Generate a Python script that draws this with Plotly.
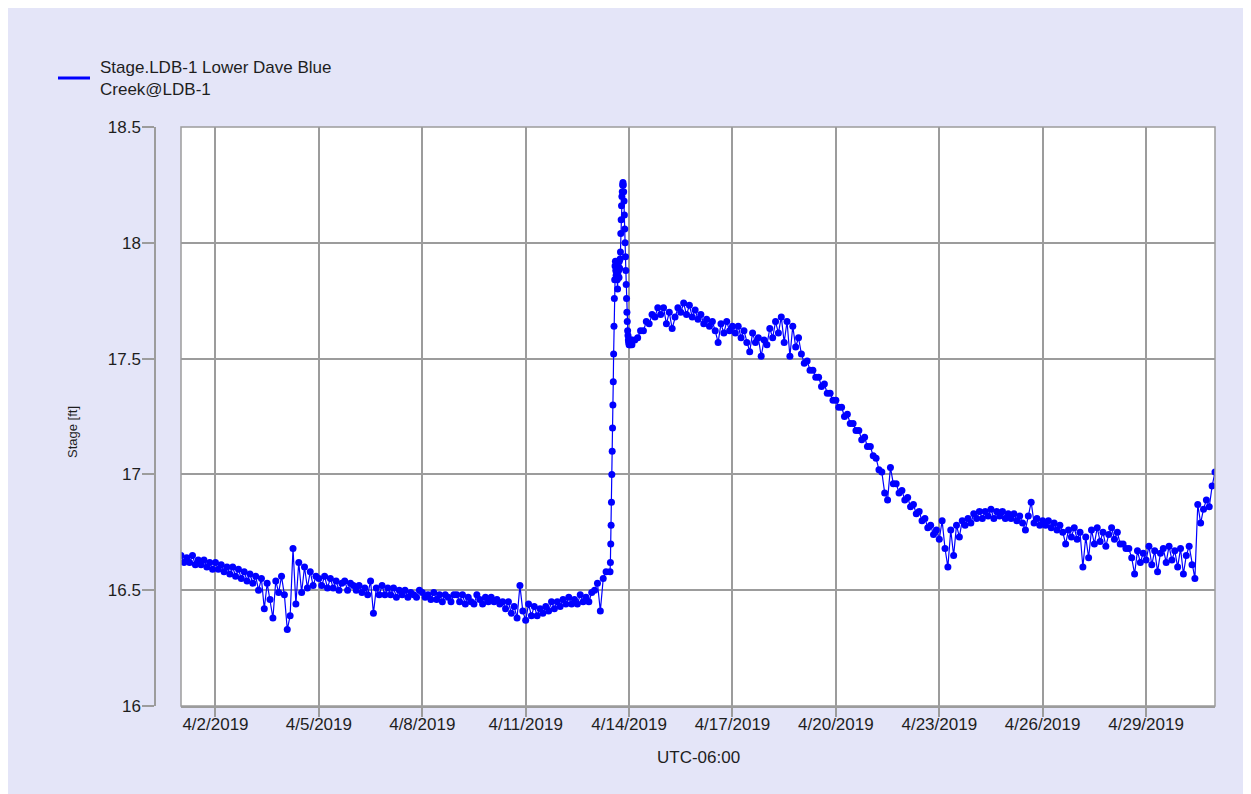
import pandas as pd
import plotly.graph_objects as go

SERIES_LINE_1 = "Stage.LDB-1 Lower Dave Blue"
SERIES_LINE_2 = "Creek@LDB-1"

# 2-hourly readings, 2019-04-01 00:00 .. 2019-04-13 08:00 (ft)
stage_a = [
    16.65, 16.62, 16.64, 16.62, 16.65, 16.61, 16.63, 16.61, 16.63, 16.60, 16.62, 16.59,
    16.62, 16.59, 16.61, 16.58, 16.60, 16.57, 16.60, 16.56, 16.59, 16.55, 16.58, 16.54,
    16.57, 16.53, 16.56, 16.50, 16.55, 16.42, 16.53, 16.46, 16.38, 16.54, 16.49, 16.56,
    16.48, 16.33, 16.39, 16.68, 16.44, 16.62, 16.49, 16.60, 16.51, 16.58, 16.52, 16.56,
    16.55, 16.52, 16.56, 16.51, 16.55, 16.51, 16.54, 16.50, 16.53, 16.54, 16.50, 16.53,
    16.52, 16.50, 16.52, 16.49, 16.51, 16.48, 16.54, 16.40, 16.51, 16.48, 16.52, 16.48,
    16.51, 16.48, 16.51, 16.47, 16.50, 16.48, 16.50, 16.47, 16.49, 16.48, 16.47, 16.50,
    16.49, 16.47, 16.48, 16.46, 16.49, 16.46, 16.48, 16.45, 16.48, 16.47, 16.45, 16.48,
    16.48, 16.45, 16.48, 16.44, 16.47, 16.45, 16.44, 16.48, 16.46, 16.44, 16.47, 16.45,
    16.47, 16.45, 16.46, 16.44, 16.45, 16.42, 16.45, 16.40, 16.43, 16.38, 16.52, 16.41,
    16.37, 16.44, 16.39, 16.43, 16.39, 16.42, 16.40, 16.43, 16.41, 16.45, 16.42, 16.45,
    16.43, 16.46, 16.44, 16.47, 16.44, 16.46, 16.44, 16.48, 16.45, 16.47, 16.45, 16.49,
    16.50, 16.53, 16.41, 16.55, 16.58,
]

# 15-minute readings during the flood pulse, 2019-04-13 10:45 .. 2019-04-14 01:45
stage_b = [
    16.58, 16.62, 16.70, 16.78, 16.88, 17.00, 17.10, 17.20, 17.30, 17.40, 17.52, 17.64,
    17.76, 17.84, 17.90, 17.92, 17.88, 17.86, 17.91, 17.87, 17.84, 17.80, 17.86, 17.90,
    17.88, 17.85, 17.92, 17.89, 17.93, 17.96, 18.04, 18.10, 18.16, 18.20, 18.22, 18.25,
    18.26, 18.25, 18.22, 18.18, 18.12, 18.06, 18.00, 17.94, 17.88, 17.82, 17.76, 17.70,
    17.66, 17.62, 17.60, 17.58, 17.57, 17.56, 17.57, 17.56, 17.57, 17.56, 17.57, 17.58,
    17.58,
]

# 2-hourly readings, 2019-04-14 02:00 .. 2019-05-01 00:00 (ft)
stage_c = [
    17.56, 17.58, 17.59, 17.62, 17.62, 17.66, 17.65, 17.69, 17.68, 17.72, 17.69,
    17.72, 17.65, 17.70, 17.63, 17.68, 17.72, 17.70, 17.74, 17.69, 17.73, 17.68, 17.71,
    17.67, 17.69, 17.65, 17.67, 17.64, 17.66, 17.62, 17.57, 17.65, 17.61, 17.66, 17.62,
    17.64, 17.61, 17.64, 17.59, 17.62, 17.57, 17.53, 17.61, 17.57, 17.59, 17.51, 17.58,
    17.56, 17.63, 17.59, 17.66, 17.61, 17.68, 17.57, 17.66, 17.51, 17.64, 17.55, 17.59,
    17.52, 17.48, 17.49, 17.45, 17.45, 17.42, 17.42, 17.38, 17.39, 17.35, 17.35, 17.32,
    17.32, 17.29, 17.29, 17.25, 17.26, 17.22, 17.22, 17.19, 17.19, 17.15, 17.16, 17.12,
    17.12, 17.08, 17.07, 17.02, 17.01, 16.92, 16.89, 17.03, 16.96, 16.96, 16.92, 16.93,
    16.89, 16.90, 16.86, 16.87, 16.83, 16.84, 16.80, 16.81, 16.77, 16.78, 16.74, 16.76,
    16.72, 16.80, 16.68, 16.60, 16.76, 16.65, 16.78, 16.73, 16.80, 16.78, 16.81, 16.79,
    16.83, 16.81, 16.84, 16.81, 16.84, 16.82, 16.85, 16.81, 16.84, 16.82, 16.84, 16.81,
    16.83, 16.81, 16.83, 16.80, 16.82, 16.79, 16.76, 16.82, 16.88, 16.79, 16.81, 16.78,
    16.80, 16.78, 16.80, 16.77, 16.79, 16.76, 16.78, 16.75, 16.70, 16.76, 16.73, 16.77,
    16.72, 16.75, 16.60, 16.73, 16.64, 16.76, 16.70, 16.77, 16.71, 16.75, 16.69, 16.74,
    16.77, 16.72, 16.75, 16.70, 16.70, 16.68, 16.68, 16.64, 16.57, 16.67, 16.62, 16.66,
    16.63, 16.69, 16.61, 16.67, 16.58, 16.66, 16.68, 16.62, 16.69, 16.63, 16.67, 16.60,
    16.68, 16.57, 16.65, 16.69, 16.61, 16.55, 16.87, 16.79, 16.85, 16.89, 16.86, 16.95,
    17.01,
]

t_a = pd.date_range("2019-04-01 00:00", periods=len(stage_a), freq="2h")
t_b = pd.date_range("2019-04-13 10:45", periods=len(stage_b), freq="15min")
t_c = pd.date_range("2019-04-14 02:00", periods=len(stage_c), freq="2h")

times = list(t_a) + list(t_b) + list(t_c)
stage = stage_a + stage_b + stage_c

x_ticks = pd.date_range("2019-04-02", "2019-04-29", freq="3D")
y_ticks = [16, 16.5, 17, 17.5, 18, 18.5]
y_tick_text = ["16", "16.5", "17", "17.5", "18", "18.5"]

# The page is shown with the browser's default 8px body margin.
PAGE_W, PAGE_H, OFFSET = 1251, 794, 8
W, H = PAGE_W - OFFSET, PAGE_H - OFFSET
ML, MR, MT, MB = 147, 36, 119, 88
PW = W - ML - MR
PH = H - MT - MB
GAP = 26  # gap between the y-axis line and the plot area


def px(sx):
    return (sx - OFFSET - ML) / PW


def py(sy):
    return (H - MB - (sy - OFFSET)) / PH


LAV = "#E4E5F8"
GRID = "#9C9C9C"
TXT = "#1E1E1E"
FONT = "Liberation Sans"
BLUE = "#0000FF"

fig = go.Figure()
fig.add_trace(go.Scatter(
    x=times, y=stage, mode="lines+markers",
    line=dict(color=BLUE, width=1.2),
    marker=dict(color=BLUE, size=7),
    showlegend=False, hoverinfo="skip",
))

fig.update_layout(
    width=W, height=H,
    margin=dict(l=ML, r=MR, t=MT, b=MB),
    paper_bgcolor=LAV, plot_bgcolor="white",
    font=dict(family=FONT, size=17, color=TXT),
    showlegend=False,
    xaxis=dict(
        domain=[GAP / PW, 1],
        range=["2019-04-01 00:00", "2019-05-01 00:00"],
        tickvals=list(x_ticks), tickformat="%-m/%-d/%Y",
        ticks="outside", ticklen=9, tickwidth=1.5, tickcolor=GRID,
        ticklabelstandoff=-7,
        showgrid=True, gridcolor=GRID, gridwidth=1.5,
        showline=True, linecolor=GRID, linewidth=1.5,
        zeroline=False, tickfont=dict(size=17, color=TXT),
    ),
    yaxis=dict(
        range=[16, 18.5], anchor="free", position=0,
        tickvals=y_ticks, ticktext=y_tick_text,
        ticks="outside", ticklen=12, tickwidth=1.5, tickcolor=GRID,
        ticklabelstandoff=-2,
        showgrid=True, gridcolor=GRID, gridwidth=1.5,
        showline=True, linecolor=GRID, linewidth=1.5,
        zeroline=False, tickfont=dict(size=17, color=TXT),
    ),
    shapes=[
        dict(type="rect", xref="x domain", yref="y domain", x0=0, x1=1, y0=0, y1=1,
             line=dict(color=GRID, width=1.5), layer="above"),
        # legend line sample
        dict(type="line", xref="paper", yref="paper", x0=px(58), x1=px(90), y0=py(78), y1=py(78),
             line=dict(color=BLUE, width=3)),
    ],
    annotations=[
        dict(text=SERIES_LINE_1, xref="paper", yref="paper", x=px(99), y=py(68),
             showarrow=False, xanchor="left", yanchor="middle", borderpad=0,
             font=dict(family=FONT, size=17, color=TXT)),
        dict(text=SERIES_LINE_2, xref="paper", yref="paper", x=px(99), y=py(89),
             showarrow=False, xanchor="left", yanchor="middle", borderpad=0,
             font=dict(family=FONT, size=17, color=TXT)),
        dict(text="UTC-06:00", xref="paper", yref="paper", x=px(698), y=py(757),
             showarrow=False, xanchor="center", yanchor="middle",
             font=dict(family=FONT, size=17, color=TXT)),
        dict(text="Stage [ft]", xref="paper", yref="paper", x=px(72), y=py(432),
             showarrow=False, xanchor="center", yanchor="middle", textangle=-90,
             font=dict(family="Liberation Sans Narrow, " + FONT, size=13, color=TXT)),
    ],
)

fig.write_html("out.html")
